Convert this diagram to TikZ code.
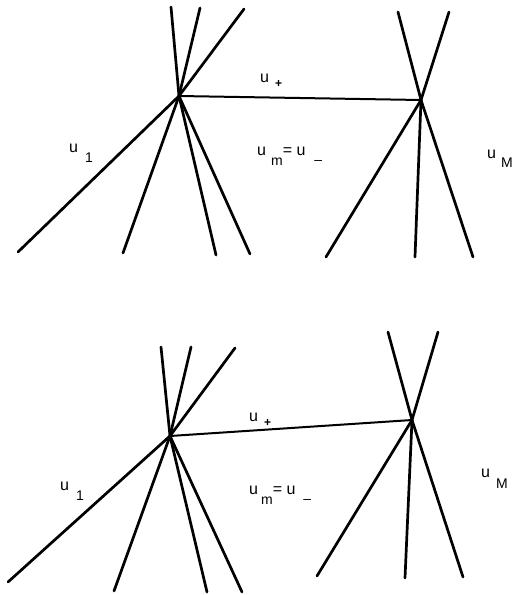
\documentclass[tikz,border=0pt]{standalone}
\usepackage{fontspec}
\setmainfont{Liberation Sans}
\usetikzlibrary{positioning}
\newcommand{\lowsub}[2]{\raisebox{-#1}{\fontsize{14}{14}\selectfont #2}}
\tikzset{
  every node/.style={font=\fontsize{16}{18}\selectfont},
  wave/.style={line width=2.7pt, line cap=round},
  contact/.style={line width=2pt, line cap=round},
  state/.style={inner sep=0pt, anchor=base west},
}

\begin{document}
\begin{tikzpicture}[x=1pt,y=-1pt]
  \useasboundingbox (0,0) rectangle (513,595);

  % Upper panel: left fan
  \coordinate (upL) at (179,96);
  \foreach \x/\y [count=\i] in {171/7, 200/8, 244/9, 18/252, 123/253, 216/255, 250/254} {
    \coordinate (upL\i) at (\x,\y);
    \draw[wave] (upL) -- (upL\i);
  }
  % Upper panel: right fan
  \coordinate (upR) at (421,100);
  \foreach \x/\y [count=\i] in {398/12, 449/12, 326/257, 415/257, 473/257} {
    \coordinate (upR\i) at (\x,\y);
    \draw[wave] (upR) -- (upR\i);
  }
  \draw[contact] (upL) -- (upR);

  % Upper panel: states
  \node[state] (upOne) at (69,152) {u\hspace{7pt}\lowsub{10pt}{1}};
  \node[state] (upPlus) at (260,82) {u\hspace{6pt}\raisebox{-5pt}{\fontsize{12}{12}\selectfont\bfseries +}};
  \node[state] (upMid) at (257,155) {u\hspace{5pt}\lowsub{10pt}{m}= u\hspace{9pt}\lowsub{9pt}{\textendash}};
  \node[state] (upBig) at (487,158) {u\hspace{5pt}\lowsub{9pt}{M}};

  % Lower panel: left fan
  \coordinate (loL) at (170,436);
  \foreach \x/\y [count=\i] in {161/347, 191/347, 235/348, 8/582, 114/591, 207/592, 242/592} {
    \coordinate (loL\i) at (\x,\y);
    \draw[wave] (loL) -- (loL\i);
  }
  % Lower panel: right fan
  \coordinate (loR) at (412,420);
  \foreach \x/\y [count=\i] in {388/332, 438/332, 317/576, 405/578, 463/577} {
    \coordinate (loR\i) at (\x,\y);
    \draw[wave] (loR) -- (loR\i);
  }
  \draw[contact] (loL) -- (loR);

  % Lower panel: states
  \node[state] (loOne) at (60,490) {u\hspace{7pt}\lowsub{10pt}{1}};
  \node[state] (loPlus) at (249,421) {u\hspace{6pt}\raisebox{-5pt}{\fontsize{12}{12}\selectfont\bfseries +}};
  \node[state] (loMid) at (249,494) {u\hspace{3pt}\lowsub{10pt}{m}= u\hspace{8pt}\lowsub{9pt}{\textendash}};
  \node[state] (loBig) at (481,477) {u\hspace{6pt}\lowsub{11pt}{M}};
\end{tikzpicture}
\end{document}
